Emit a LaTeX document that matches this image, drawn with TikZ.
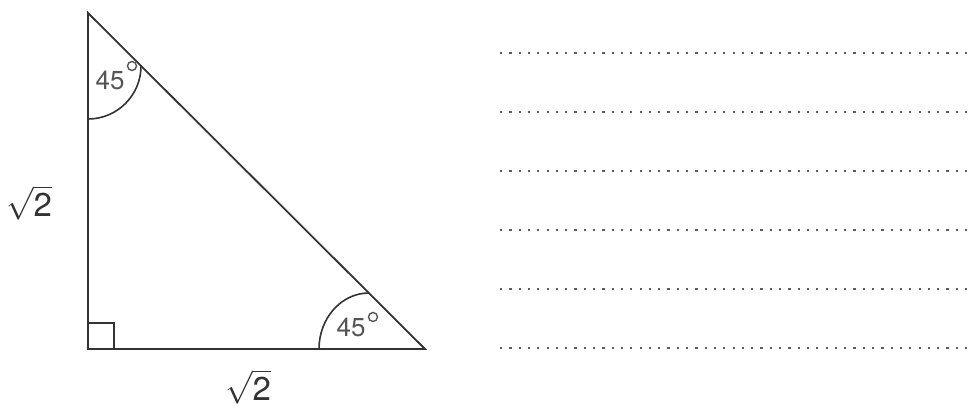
\RequirePackage{fix-cm}
\documentclass[tikz,border=0pt]{standalone}
\usepackage{fontspec}
\setmainfont{TeX Gyre Heros}
\definecolor{edge}{HTML}{333333}
\definecolor{txt}{HTML}{555555}
\tikzset{
  side/.style={draw=edge, line width=1.8pt, line join=miter},
  anglearc/.style={draw=edge, line width=1.6pt},
  deglabel/.style={text=txt, font=\fontsize{26}{26}\selectfont, inner sep=0pt},
  degsign/.style={draw=txt, line width=1.4pt},
  lenlabel/.style={text=edge, font=\fontsize{33}{33}\selectfont, inner sep=0pt},
  writeline/.style={draw=edge!80, line width=2.2pt, dash pattern=on 2.2pt off 7.1pt}
}
\newcommand{\rtwo}{$\sqrt{\rule[-2pt]{0pt}{28pt}\mbox{2}}$}
\begin{document}
\begin{tikzpicture}[x=1pt,y=-1pt]
\useasboundingbox (0,0) rectangle (968,410);
\coordinate (A) at (88,13);
\coordinate (B) at (88,349);
\coordinate (C) at (425,349);
% right angle mark
\draw[side, line width=1.6pt] (B) rectangle ++(26,-26);
% angle arcs
\draw[anglearc] (88,119) arc[start angle=270, end angle=360, x radius=53, y radius=-53];
\draw[anglearc] (319,349) arc[start angle=180, end angle=90, x radius=50, y radius=-56];
% triangle
\draw[side] (A) -- (B) -- (C) -- cycle;
% angle labels
\node[deglabel] (t45) at (110,80) {45};
\draw[degsign] (132,66) circle[radius=4.5];
\node[deglabel] (b45) at (351,327) {45};
\draw[degsign] (373,317) circle[radius=4.5];
% side labels
\node[lenlabel] (lsq) at (29,203) {\rtwo};
\node[lenlabel] (bsq) at (248,387) {\rtwo};
% writing lines
\foreach \i in {0,...,5}{
  \coordinate (L\i s) at (500,52.7+59.1*\i);
  \coordinate (L\i e) at (968,52.7+59.1*\i);
  \draw[writeline] (L\i s) -- (L\i e);
}
\end{tikzpicture}
\end{document}
